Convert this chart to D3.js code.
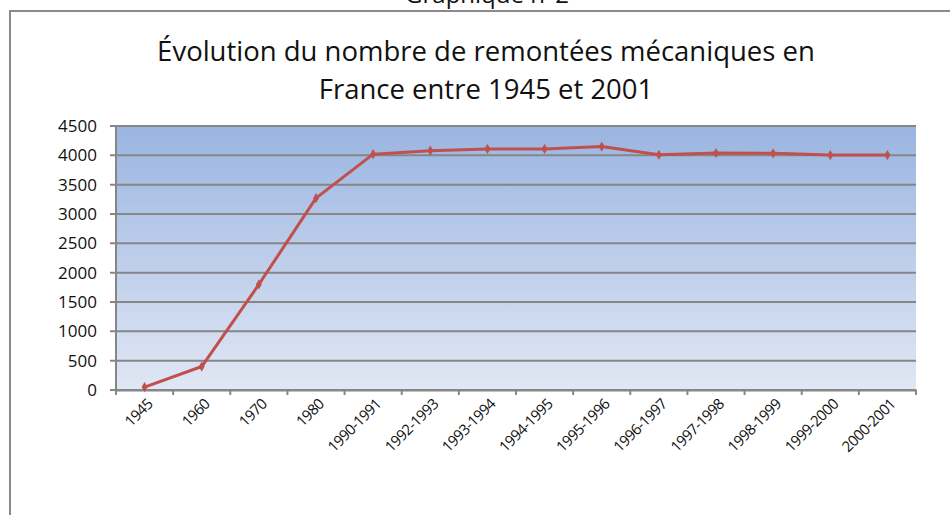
<!DOCTYPE html>
<html>
<head>
<meta charset="utf-8">
<script src="https://cdn.jsdelivr.net/npm/d3@7"></script>
<style>
  body { margin: 0; background: #fff; }
  svg { display: block; font-family: "Open Sans", "Noto Sans", sans-serif; }
</style>
</head>
<body>
<svg width="950" height="515"></svg>
<script>
// données
const categories = ["1945", "1960", "1970", "1980", "1990-1991", "1992-1993", "1993-1994",
  "1994-1995", "1995-1996", "1996-1997", "1997-1998", "1998-1999", "1999-2000", "2000-2001"];
const remontees = [50, 400, 1800, 3270, 4020, 4080, 4110, 4110, 4150, 4010, 4040, 4035, 4005, 4005];
const yTicks = [0, 500, 1000, 1500, 2000, 2500, 3000, 3500, 4000, 4500];

const svg = d3.select("svg");
const width = 950, height = 515;
const plot = { left: 116, right: 916, top: 126, bottom: 390 };

// cadre extérieur
svg.append("path")
  .attr("d", `M10,${height + 5} V11 H${width + 5}`)
  .attr("fill", "none")
  .attr("stroke", "#8a8a8a")
  .attr("stroke-width", 2);

// titre du dessus (coupé par le cadre de la page)
svg.append("text")
  .attr("x", 487).attr("y", 3)
  .attr("text-anchor", "middle")
  .attr("font-size", 24)
  .attr("fill", "#111")
  .text("Graphique n°2");

// titre
const title = svg.append("text")
  .attr("text-anchor", "middle")
  .attr("font-size", 27.5)
  .attr("fill", "#111");
title.append("tspan").attr("x", 486).attr("y", 61).text("Évolution du nombre de remontées mécaniques en");
title.append("tspan").attr("x", 486).attr("y", 99).text("France entre 1945 et 2001");

const x = d3.scaleBand().domain(categories).range([plot.left, plot.right]);
const y = d3.scaleLinear().domain([0, 4500]).range([plot.bottom, plot.top]);

// fond dégradé
const grad = svg.append("defs").append("linearGradient")
  .attr("id", "bg").attr("x1", 0).attr("y1", 0).attr("x2", 0).attr("y2", 1);
grad.append("stop").attr("offset", "0%").attr("stop-color", "#9ab5e1");
grad.append("stop").attr("offset", "100%").attr("stop-color", "#e0e7f4");

svg.append("rect")
  .attr("x", plot.left).attr("y", plot.top)
  .attr("width", plot.right - plot.left).attr("height", plot.bottom - plot.top)
  .attr("fill", "url(#bg)");

// quadrillage
svg.append("g")
  .selectAll("line")
  .data(yTicks)
  .join("line")
  .attr("x1", plot.left - 6).attr("x2", plot.right)
  .attr("y1", d => y(d)).attr("y2", d => y(d))
  .attr("stroke", "#868686")
  .attr("stroke-width", 2);

// axe Y
svg.append("line")
  .attr("x1", plot.left).attr("x2", plot.left)
  .attr("y1", plot.top).attr("y2", plot.bottom + 5)
  .attr("stroke", "#868686").attr("stroke-width", 2);

svg.append("g")
  .selectAll("text")
  .data(yTicks)
  .join("text")
  .attr("x", 97)
  .attr("y", d => y(d) + 6)
  .attr("text-anchor", "end")
  .attr("font-size", 17)
  .attr("fill", "#111")
  .text(d => d);

// axe X
const xAxis = svg.append("g")
  .attr("transform", `translate(0,${plot.bottom})`)
  .call(d3.axisBottom(x).tickSize(0).tickFormat(""));
xAxis.select(".domain").attr("stroke", "#868686").attr("stroke-width", 2);

const bounds = categories.map(c => x(c)).concat([plot.right]);
svg.append("g")
  .selectAll("line")
  .data(bounds)
  .join("line")
  .attr("x1", d => d).attr("x2", d => d)
  .attr("y1", plot.bottom).attr("y2", plot.bottom + 5)
  .attr("stroke", "#868686").attr("stroke-width", 2);

svg.append("g")
  .selectAll("text")
  .data(categories)
  .join("text")
  .attr("transform", d => `translate(${x(d) + x.bandwidth() / 2 + 9},${plot.bottom + 15}) rotate(-45)`)
  .attr("text-anchor", "end")
  .attr("font-size", 15)
  .attr("letter-spacing", -0.6)
  .attr("fill", "#111")
  .text(d => d);

// courbe
const cx = d => x(d) + x.bandwidth() / 2;
const line = d3.line()
  .x((d, i) => cx(categories[i]))
  .y(d => y(d));

svg.append("path")
  .datum(remontees)
  .attr("fill", "none")
  .attr("stroke", "#c0504d")
  .attr("stroke-width", 3)
  .attr("stroke-linejoin", "round")
  .attr("d", line);

svg.append("g")
  .selectAll("path")
  .data(remontees)
  .join("path")
  .attr("transform", (d, i) => `translate(${cx(categories[i])},${y(d)})`)
  .attr("d", d3.symbol(d3.symbolDiamond, 30))
  .attr("fill", "#c0504d");
</script>
</body>
</html>
